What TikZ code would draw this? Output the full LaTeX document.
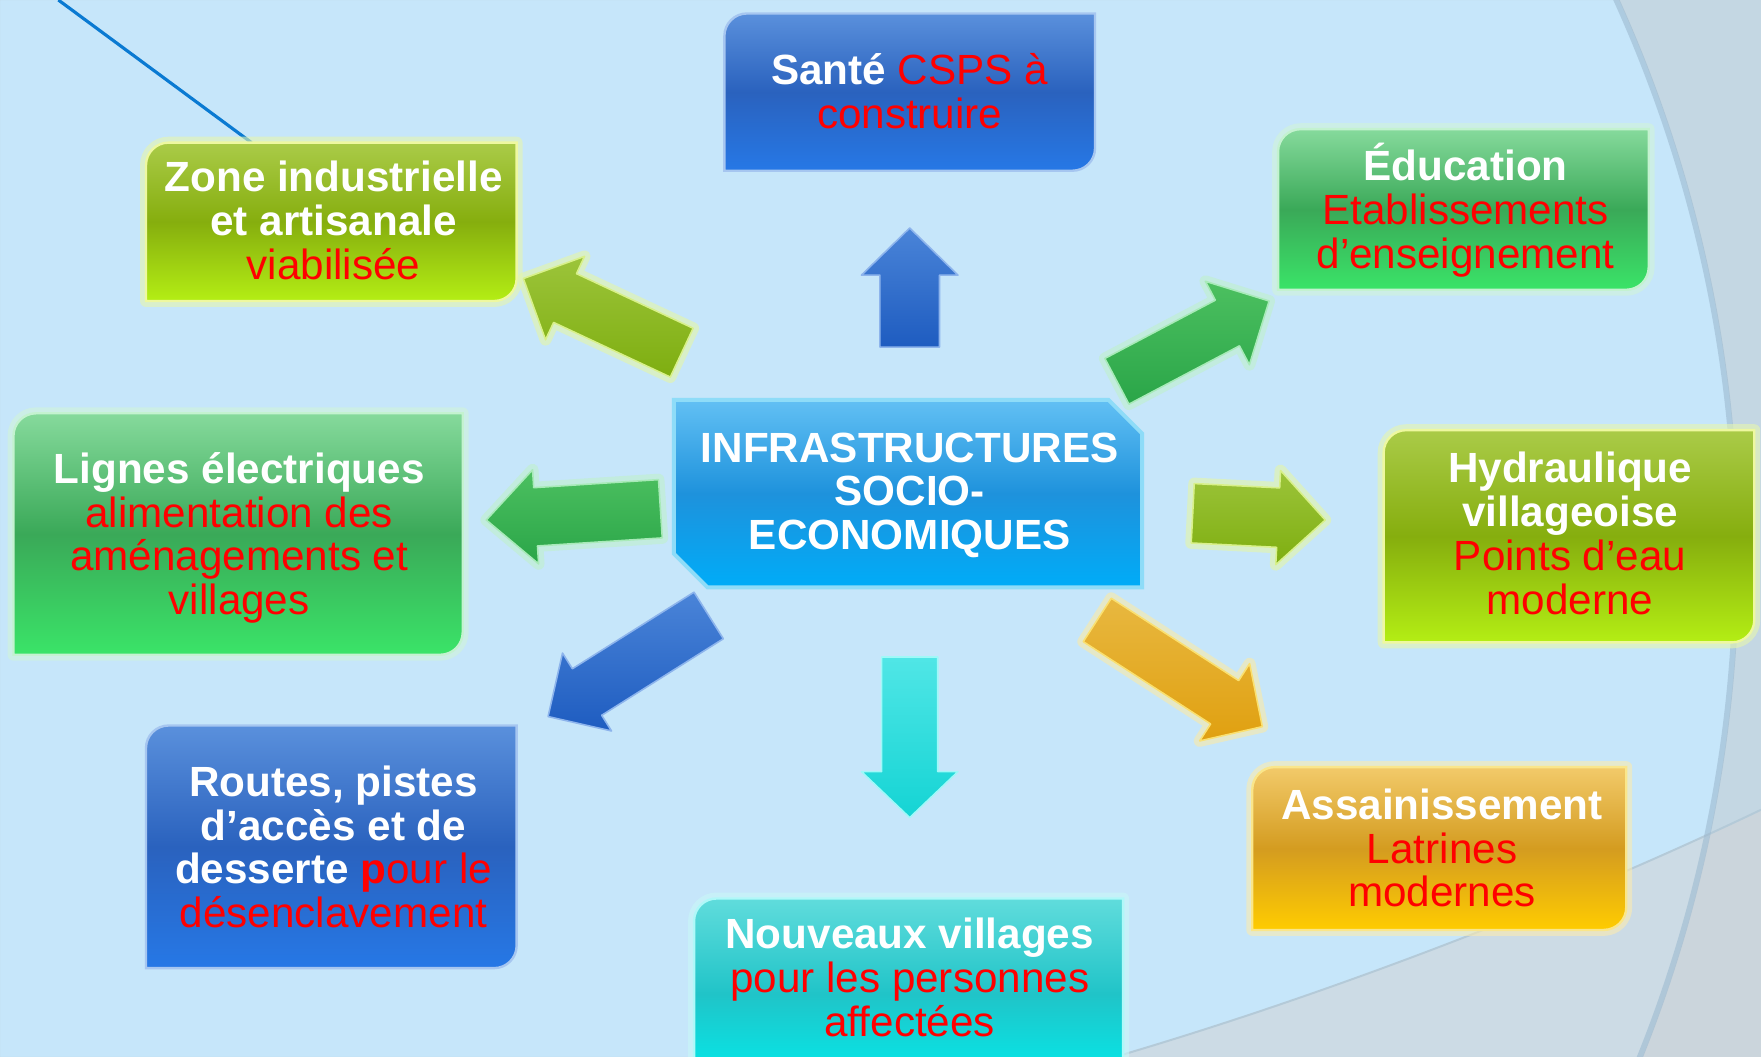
\documentclass[tikz,border=0pt]{standalone}
\usepackage{fontspec}
\setmainfont{Liberation Sans}
\usetikzlibrary{calc}

\definecolor{bgblue}{HTML}{C6E6FA}
\definecolor{bgout}{HTML}{C4D7E3}
\definecolor{bglow}{HTML}{D0D4D8}
\definecolor{rimline}{HTML}{9DBAD0}
\definecolor{rimlow}{HTML}{B4CAD8}
\definecolor{lineblue}{HTML}{0A7AD2}
\definecolor{redtx}{HTML}{FF0000}
% boxes
\definecolor{bxBlueT}{HTML}{5A90DC}\definecolor{bxBlueM}{HTML}{2A62BE}\definecolor{bxBlueB}{HTML}{2678E6}\definecolor{bxBlueE}{HTML}{A6C6F0}
\definecolor{bxYgT}{HTML}{AACB48}\definecolor{bxYgM}{HTML}{86AE0E}\definecolor{bxYgB}{HTML}{B4EE14}\definecolor{bxYgE}{HTML}{EEF8A0}\definecolor{bxYgG}{HTML}{E6F6AE}
\definecolor{bxGrT}{HTML}{86DA9C}\definecolor{bxGrM}{HTML}{3AA958}\definecolor{bxGrB}{HTML}{3AE468}\definecolor{bxGrE}{HTML}{C4F2D0}\definecolor{bxGrG}{HTML}{D0F4DA}
\definecolor{bxCeT}{HTML}{62C0F4}\definecolor{bxCeM}{HTML}{1E92DC}\definecolor{bxCeB}{HTML}{00ACF8}\definecolor{bxCeE}{HTML}{8EDCF8}
\definecolor{bxTeT}{HTML}{60DCDC}\definecolor{bxTeM}{HTML}{20C4C8}\definecolor{bxTeB}{HTML}{00EEEE}\definecolor{bxTeE}{HTML}{B0F8F8}\definecolor{bxTeG}{HTML}{C8F8F8}
\definecolor{bxOrT}{HTML}{F2CA6A}\definecolor{bxOrM}{HTML}{D49C20}\definecolor{bxOrB}{HTML}{FFCC00}\definecolor{bxOrE}{HTML}{FAE68A}\definecolor{bxOrG}{HTML}{FBEBB0}
% arrows
\definecolor{arBlT}{HTML}{4A84D8}\definecolor{arBlB}{HTML}{1E5CC0}\definecolor{arBlE}{HTML}{8DB4EC}
\definecolor{arYgT}{HTML}{9CC43A}\definecolor{arYgB}{HTML}{7EAE10}\definecolor{arYgE}{HTML}{D8F08A}\definecolor{arYgG}{HTML}{E4F6A8}
\definecolor{arGrT}{HTML}{4CC060}\definecolor{arGrB}{HTML}{2AA548}\definecolor{arGrE}{HTML}{A8EAB8}\definecolor{arGrG}{HTML}{C0F0CC}
\definecolor{arTeT}{HTML}{50E6E6}\definecolor{arTeB}{HTML}{14D4D4}\definecolor{arTeE}{HTML}{A0F8F8}
\definecolor{arOrT}{HTML}{E8B840}\definecolor{arOrB}{HTML}{E0A010}\definecolor{arOrE}{HTML}{FAE070}\definecolor{arOrG}{HTML}{FAEAA8}

\newcommand\whtxt[1]{{\color{white}\bfseries #1}}
\newcommand\redtxt[1]{{\color{redtx}#1}}

% box with rounded top-left and bottom-right corners: L T R B style
\newcommand\rdbox[5]{%
  \path[#5] (#1,#4) -- (#1,#2+20) .. controls (#1,#2+9) and (#1+9,#2) .. (#1+20,#2)
    -- (#3,#2) -- (#3,#4-20) .. controls (#3,#4-9) and (#3-9,#4) .. (#3-20,#4) -- cycle;}

% block arrow: tail, tip, shaft half width, head half width, head length, style
\newcommand\blockarrow[6]{%
  \path ($(#2)!#5!(#1)$) coordinate (bah);
  \path[#6] ($(#1)!#3!90:(#2)$) -- ($(bah)!#3!90:(#2)$) -- ($(bah)!#4!90:(#2)$) -- (#2)
    -- ($(bah)!#4!-90:(#2)$) -- ($(bah)!#3!-90:(#2)$) -- ($(#1)!#3!-90:(#2)$) -- cycle;}

\begin{document}
\begin{tikzpicture}[x=0.02cm,y=-0.02cm,
  txt/.style={align=center, inner sep=0pt, font=\fontsize{21.4pt}{22.2pt}\selectfont},
  glow/.style={preaction={draw=#1, line width=6pt, opacity=0.6, line join=round}},
  bluebox/.style={top color=bxBlueT, bottom color=bxBlueB, middle color=bxBlueM, draw=bxBlueE, line width=1.2pt},
  ygbox/.style={top color=bxYgT, bottom color=bxYgB, middle color=bxYgM, draw=bxYgE, line width=1.2pt, glow=bxYgG},
  grbox/.style={top color=bxGrT, bottom color=bxGrB, middle color=bxGrM, draw=bxGrE, line width=1.2pt, glow=bxGrG},
  cebox/.style={top color=bxCeT, bottom color=bxCeB, middle color=bxCeM, draw=bxCeE, line width=2pt},
  tebox/.style={top color=bxTeT, bottom color=bxTeB, middle color=bxTeM, draw=bxTeE, line width=1.2pt, glow=bxTeG},
  orbox/.style={top color=bxOrT, bottom color=bxOrB, middle color=bxOrM, draw=bxOrE, line width=1.2pt, glow=bxOrG},
  arblue/.style={top color=arBlT, bottom color=arBlB, draw=arBlE, line width=0.8pt, line join=round},
  aryg/.style={top color=arYgT, bottom color=arYgB, draw=arYgE, line width=0.8pt, line join=round, glow=arYgG},
  argr/.style={top color=arGrT, bottom color=arGrB, draw=arGrE, line width=0.8pt, line join=round, glow=arGrG},
  arte/.style={top color=arTeT, bottom color=arTeB, draw=arTeE, line width=0.8pt, line join=round},
  aror/.style={top color=arOrT, bottom color=arOrB, draw=arOrE, line width=0.8pt, line join=round, glow=arOrG}]
\useasboundingbox (0,0) rectangle (1568,941);
\clip (0,0) rectangle (1568,941);

% background
\fill[bgblue] (0,0) rectangle (1568,941);
\fill[bgout, even odd rule] (0,0) rectangle (1568,941) (348,495) circle (1200);
\fill[bglow, opacity=0.6] (993,941) .. controls (1180,886) and (1390,806) .. (1568,721) -- (1568,941) -- cycle;
\draw[rimlow, line width=1pt] (993,941) .. controls (1180,886) and (1390,806) .. (1568,721);
\draw[rimline, line width=3pt, opacity=0.6] (348,495) circle (1198);

% top-left line
\coordinate (lineend) at (52,0);
\coordinate (zonetop) at (224,127);
\draw[lineblue, line width=1.6pt] (lineend) -- (zonetop);

% boxes
\rdbox{645}{12}{975}{152}{bluebox}
\rdbox{130}{127}{460}{268}{ygbox}
\rdbox{1138}{115}{1468}{258}{grbox}
\rdbox{12}{368}{412}{583}{grbox}
\rdbox{1232}{383}{1562}{572}{ygbox}
\rdbox{130}{646}{460}{862}{bluebox}
\rdbox{618}{800}{1000}{970}{tebox}
\rdbox{1115}{683}{1448}{828}{orbox}
\path[cebox] (600,356) -- (987,356) -- (1017,386) -- (1017,523) -- (630,523) -- (600,493) -- cycle;

% texts
\node[txt] (infra) at (810,441) {\whtxt{INFRASTRUCTURES}\\\whtxt{SOCIO-}\\\whtxt{ECONOMIQUES}};
\node[txt] (sante) at (810,81) {\whtxt{Santé} \redtxt{CSPS à}\\\redtxt{construire}};
\node[txt] (zone) at (297,196) {\whtxt{Zone industrielle}\\\whtxt{et artisanale}\\\redtxt{viabilisée}};
\node[txt] (educ) at (1305,187) {\whtxt{Éducation}\\\redtxt{Etablissements}\\\redtxt{d’enseignement}};
\node[txt] (lignes) at (213,479) {\whtxt{Lignes électriques}\\\redtxt{alimentation des}\\\redtxt{aménagements et}\\\redtxt{villages}};
\node[txt] (hydro) at (1398,475) {\whtxt{Hydraulique}\\\whtxt{villageoise}\\\redtxt{Points d’eau}\\\redtxt{moderne}};
\node[txt] (routes) at (297,754) {\whtxt{Routes, pistes}\\\whtxt{d’accès et de}\\\whtxt{desserte} {\color{redtx}\bfseries p}\redtxt{our le}\\\redtxt{désenclavement}};
\node[txt] (villages) at (810,870) {\whtxt{Nouveaux villages}\\\redtxt{pour les personnes}\\\redtxt{affectées}};
\node[txt] (assain) at (1284,755) {\whtxt{Assainissement}\\\redtxt{Latrines}\\\redtxt{modernes}};

% arrow ends
\coordinate (tA) at (810,309);   \coordinate (hA) at (810,203);
\coordinate (tB) at (607,314);   \coordinate (hB) at (466,248);
\coordinate (tC) at (994.5,339.5); \coordinate (hC) at (1130,268);
\coordinate (tD) at (588,453);   \coordinate (hD) at (433,463);
\coordinate (tE) at (1062,457);  \coordinate (hE) at (1180,463);
\coordinate (tF) at (631,548);   \coordinate (hF) at (488,638);
\coordinate (tG) at (810,585);   \coordinate (hG) at (810,728);
\coordinate (tH) at (977,552);   \coordinate (hH) at (1124,647);

\blockarrow{tA}{hA}{0.53cm}{0.86cm}{0.84cm}{arblue}
\blockarrow{tB}{hB}{0.48cm}{0.82cm}{0.82cm}{aryg}
\blockarrow{tC}{hC}{0.46cm}{0.84cm}{0.84cm}{argr}
\blockarrow{tD}{hD}{0.52cm}{0.84cm}{0.88cm}{argr}
\blockarrow{tE}{hE}{0.53cm}{0.84cm}{0.84cm}{aryg}
\blockarrow{tF}{hF}{0.49cm}{0.82cm}{0.82cm}{arblue}
\blockarrow{tG}{hG}{0.50cm}{0.86cm}{0.82cm}{arte}
\blockarrow{tH}{hH}{0.46cm}{0.82cm}{0.80cm}{aror}
\end{tikzpicture}
\end{document}
